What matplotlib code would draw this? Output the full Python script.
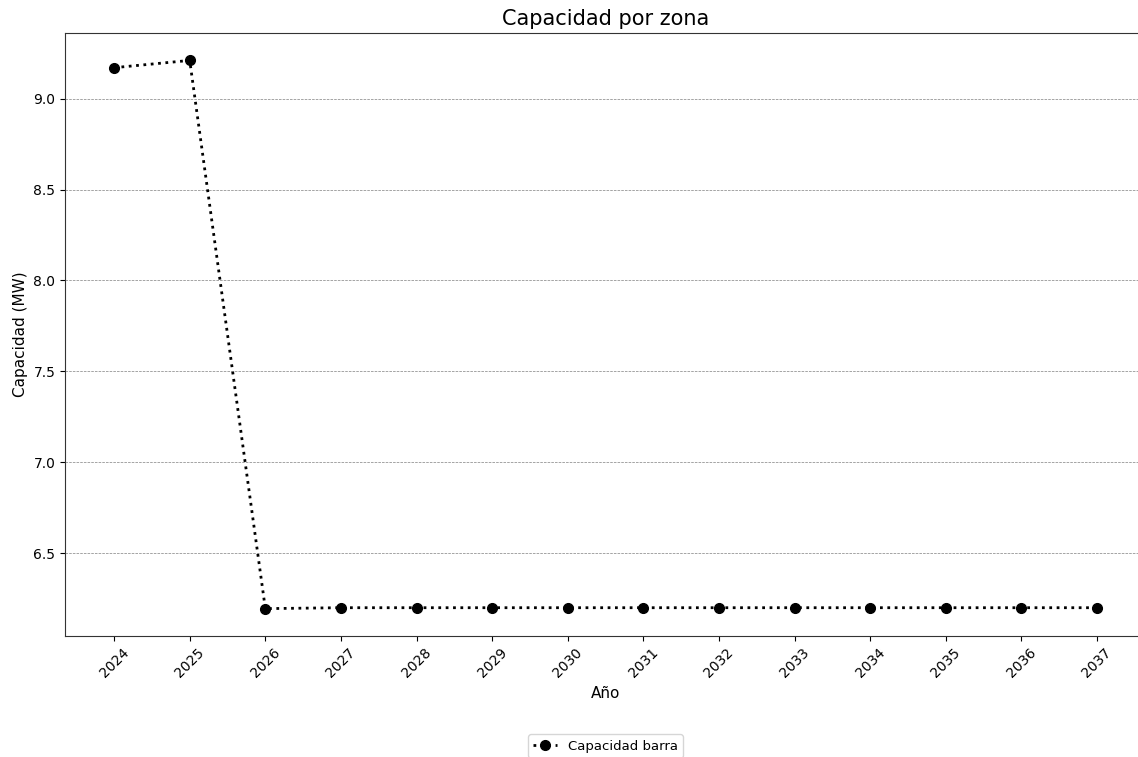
import matplotlib
matplotlib.use("Agg")
import matplotlib.pyplot as plt

years = [2024, 2025, 2026, 2027, 2028, 2029, 2030, 2031, 2032, 2033, 2034, 2035, 2036, 2037]
capacidad = [9.17, 9.21, 6.195, 6.2, 6.2, 6.2, 6.2, 6.2, 6.2, 6.2, 6.2, 6.2, 6.2, 6.2]
series_label = "Capacidad barra"

fig = plt.figure(figsize=(11.38, 7.57), dpi=100)
ax = fig.add_axes([0.0571, 0.1598, 0.950, 0.7966])

ax.plot(years, capacidad, linestyle=':', color='black', linewidth=2,
        marker='o', markersize=7, label=series_label)

ax.set_title("Capacidad por zona", fontsize=15)
ax.set_xlabel("Año", fontsize=11)
ax.set_ylabel("Capacidad (MW)", fontsize=11)
ax.set_xticks(years)
ax.set_xticklabels([str(y) for y in years], rotation=45)
ax.grid(axis='y', linestyle='--', color='gray', linewidth=0.5)
for s in ax.spines.values():
    s.set_color('#333333')
ax.legend(loc='upper center', bbox_to_anchor=(0.5, -0.152), ncol=1,
          fontsize=9.5, handlelength=1.8)

fig.savefig("out.png", dpi=100)
